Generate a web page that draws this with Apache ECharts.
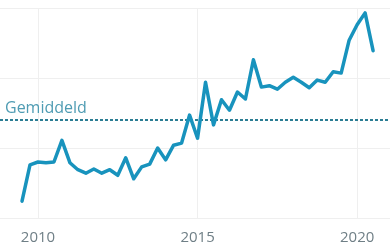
<!DOCTYPE html>
<html>
<head>
<meta charset="utf-8">
<script src="https://cdn.jsdelivr.net/npm/echarts@6/dist/echarts.min.js"></script>
<style>
  html, body { margin: 0; padding: 0; background: #fff; }
  #chart { width: 390px; height: 248px; }
</style>
</head>
<body>
<div id="chart"></div>
<script>
// kwartalen 2009 K3 t/m 2020 K3
const quarters = [
  '2009-3', '2009-4',
  '2010-1', '2010-2', '2010-3', '2010-4',
  '2011-1', '2011-2', '2011-3', '2011-4',
  '2012-1', '2012-2', '2012-3', '2012-4',
  '2013-1', '2013-2', '2013-3', '2013-4',
  '2014-1', '2014-2', '2014-3', '2014-4',
  '2015-1', '2015-2', '2015-3', '2015-4',
  '2016-1', '2016-2', '2016-3', '2016-4',
  '2017-1', '2017-2', '2017-3', '2017-4',
  '2018-1', '2018-2', '2018-3', '2018-4',
  '2019-1', '2019-2', '2019-3', '2019-4',
  '2020-1', '2020-2', '2020-3',
];
const values = [
  24, 76,
  80, 79, 80, 111,
  79, 69, 64, 70,
  64, 69, 61, 86,
  56, 73, 77, 100,
  83, 104, 107, 147,
  114, 194, 133, 169,
  154, 180, 170, 226,
  187, 189, 184, 194,
  201, 194, 186, 197,
  194, 209, 207, 254,
  276, 293, 239,
];
const yearTicks = [2010, 2015, 2020];

const points = quarters.map((q, i) => {
  const [y, k] = q.split('-').map(Number);
  return [y + (k - 1) / 4, values[i]];
});

const chart = echarts.init(document.getElementById('chart'));

chart.setOption({
  animation: false,
  grid: { left: 0, right: 0, top: 8, bottom: 30 },
  xAxis: {
    type: 'value',
    min: 2008.81,
    max: 2021.03,
    axisLine: { show: false },
    axisTick: { show: false },
    splitLine: { show: false },
    axisLabel: {
      customValues: yearTicks,
      formatter: (v) => String(v),
      color: '#6f7f86',
      fontFamily: 'Open Sans',
      fontSize: 15,
      margin: 12,
    },
  },
  yAxis: {
    type: 'value',
    min: 0,
    max: 300,
    interval: 100,
    axisLine: { show: false },
    axisTick: { show: false },
    axisLabel: { show: false },
    splitLine: { lineStyle: { color: '#efefef', width: 1 } },
  },
  series: [
    {
      // verticale rasterlijnen, onder de lijn
      type: 'line',
      data: [],
      z: 1,
      silent: true,
      markLine: {
        z: 1,
        silent: true,
        symbol: 'none',
        label: { show: false },
        lineStyle: { color: '#efefef', width: 1, type: 'solid' },
        data: yearTicks.map((y) => ({ xAxis: y })),
      },
    },
    {
      type: 'line',
      data: points,
      symbol: 'none',
      clip: false,
      lineStyle: { color: '#1893bd', width: 3.5, join: 'round', cap: 'round' },
      z: 3,
      markLine: {
        z: 2,
        silent: true,
        symbol: 'none',
        data: [
          {
            type: 'average',
            lineStyle: { color: '#2b7d93', width: 2, type: [3, 2] },
            label: {
              show: true,
              position: 'insideStartTop',
              formatter: 'Gemiddeld',
              color: '#4f9cb3',
              fontFamily: 'Open Sans',
              fontSize: 16,
              distance: [5, 4],
            },
          },
        ],
      },
    },
  ],
});
</script>
</body>
</html>
